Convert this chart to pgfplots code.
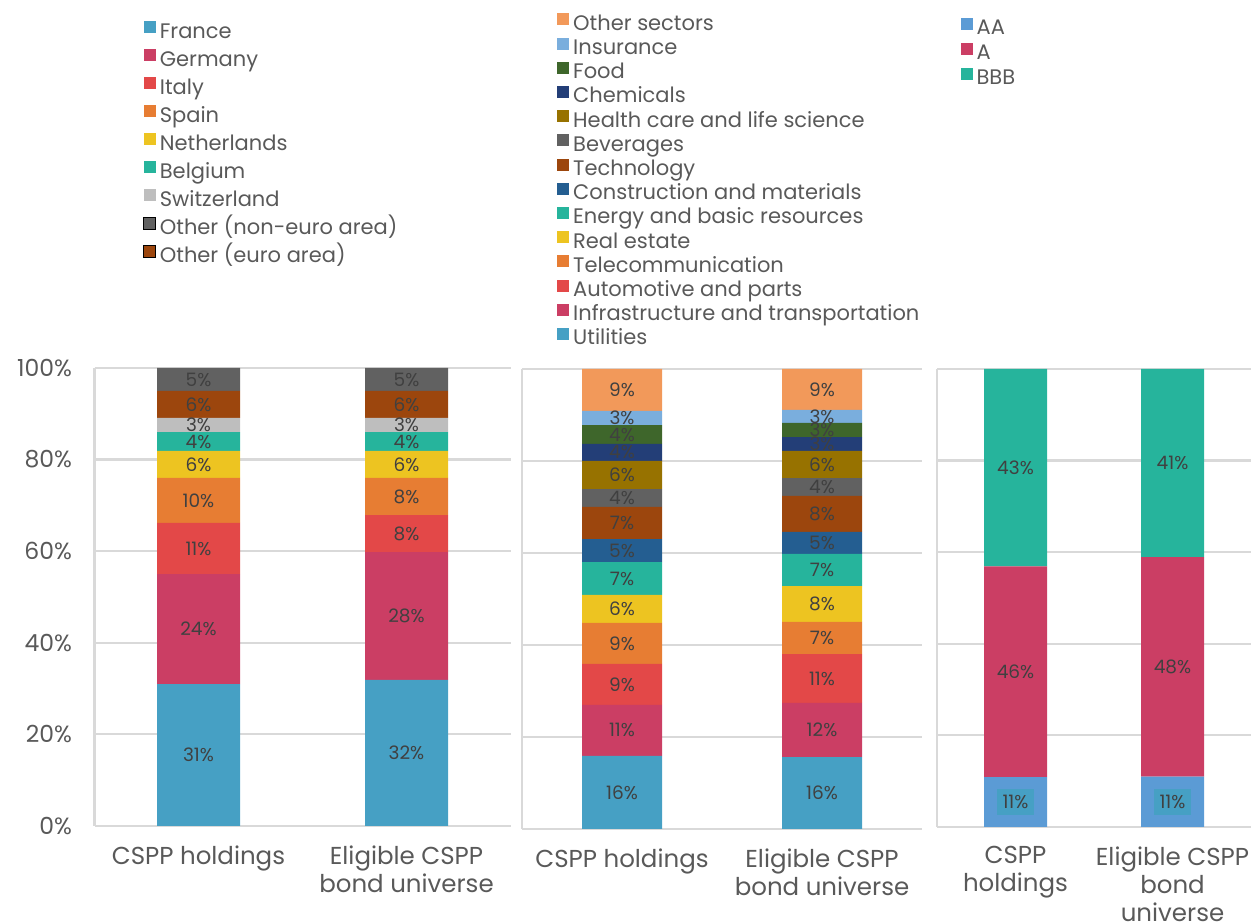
\documentclass[border=0pt]{standalone}
\usepackage{pgfplots}
\pgfplotsset{compat=1.18}
\usepackage{fontspec}
\setmainfont{Poppins}

\definecolor{cblue}{HTML}{46A0C4}
\definecolor{cmag}{HTML}{CB3E64}
\definecolor{cred}{HTML}{E34848}
\definecolor{corange}{HTML}{E77D33}
\definecolor{cyellow}{HTML}{EDC421}
\definecolor{cteal}{HTML}{26B49C}
\definecolor{clgray}{HTML}{BEBEBE}
\definecolor{cdgray}{HTML}{616161}
\definecolor{cbrown}{HTML}{9C460D}
\definecolor{cnavy}{HTML}{245E91}
\definecolor{cgold}{HTML}{977200}
\definecolor{cdnavy}{HTML}{233E77}
\definecolor{cgreen}{HTML}{3E662B}
\definecolor{clblue}{HTML}{7AAEDD}
\definecolor{cpeach}{HTML}{F2995A}
\definecolor{caa}{HTML}{5B9BD5}
\definecolor{cgrid}{HTML}{D9D9D9}
\definecolor{ctext}{HTML}{595959}
\definecolor{clabel}{HTML}{404040}

\pgfplotsset{
  panel/.style={
    scale only axis,
    ybar stacked,
    ymin=0, ymax=100,
    xmin=-0.5, xmax=1.5,
    ytick={0,20,40,60,80,100},
    xtick={0,1},
    major tick length=0pt,
    axis x line*=bottom, axis y line*=left,
    axis line style={cgrid, line width=2.2pt, -},
    ymajorgrids, grid style={cgrid, line width=2.2pt},
    /pgf/number format/assume math mode=true,
    xticklabel style={align=center, font=\fontsize{24.5}{28}\selectfont, text=ctext, yshift=-16pt},
    yticklabel style={font=\fontsize{23.5}{26}\selectfont, text=ctext, xshift=-19pt},
    nodes near coords={\pgfmathprintnumber[fixed,precision=0]{\pgfplotspointmeta}\%},
    nodes near coords align=center,
    every node near coord/.append style={
      anchor=center,
      font=\fontsize{18.5}{20}\selectfont, text=clabel, inner sep=1pt
    },
    legend style={draw=none, fill=none, anchor=north west,
      font=\fontsize{21}{22}\selectfont, text=ctext,
      nodes={inner sep=0pt, text height=15pt, text depth=5pt},
      /tikz/every odd column/.append style={column sep=4pt}},
    legend cell align=left,
    legend image code/.code={\fill[##1] (0pt,0pt) rectangle (12pt,12pt);},
  }
}

\begin{document}
\begin{tikzpicture}
\path[use as bounding box] (0,0) rectangle (1255pt,923pt);

% Panel 1: by country
\begin{axis}[panel,
  at={(94.5pt,97pt)}, anchor=south west,
  width=416pt, height=458pt, bar width=83pt,
  yticklabel={\pgfmathprintnumber{\tick}\%},
  xticklabels={CSPP holdings, {Eligible CSPP\\bond universe}},
  legend style={at={(0.11,1.762)}, row sep=6pt},
]
\addplot[fill=cblue, draw=none] coordinates {(0,31.0) (1,31.9)};
\addlegendentry{France}
\addplot[fill=cmag, draw=none] coordinates {(0,24.0) (1,27.9)};
\addlegendentry{Germany}
\addplot[fill=cred, draw=none] coordinates {(0,11.2) (1,8.1)};
\addlegendentry{Italy}
\addplot[fill=corange, draw=none] coordinates {(0,9.8) (1,8.1)};
\addlegendentry{Spain}
\addplot[fill=cyellow, draw=none] coordinates {(0,5.9) (1,5.9)};
\addlegendentry{Netherlands}
\addplot[fill=cteal, draw=none] coordinates {(0,4.1) (1,4.1)};
\addlegendentry{Belgium}
\addplot[fill=clgray, draw=none] coordinates {(0,3.1) (1,3.1)};
\addlegendentry{Switzerland}
\addplot[fill=cbrown, draw=none, forget plot] coordinates {(0,5.9) (1,5.9)};
\addplot[fill=cdgray, draw=none, forget plot] coordinates {(0,5.0) (1,5.0)};
\addlegendimage{fill=cdgray}
\addlegendentry{Other (non-euro area)}
\addlegendimage{fill=cbrown}
\addlegendentry{Other (euro area)}
\end{axis}

% Panel 2: by sector
\begin{axis}[panel,
  at={(522pt,94pt)}, anchor=south west,
  width=400pt, height=460pt, bar width=80pt,
  yticklabels={},
  xticklabels={CSPP holdings, {Eligible CSPP\\bond universe}},
  reverse legend,
  legend style={at={(0.08,1.778)}, row sep=2.2pt},
]
\addplot[fill=cblue, draw=none] coordinates {(0,15.9) (1,15.6)};
\addlegendentry{Utilities}
\addplot[fill=cmag, draw=none] coordinates {(0,11.1) (1,11.8)};
\addlegendentry{Infrastructure and transportation}
\addplot[fill=cred, draw=none] coordinates {(0,8.9) (1,10.6)};
\addlegendentry{Automotive and parts}
\addplot[fill=corange, draw=none] coordinates {(0,8.9) (1,7.0)};
\addlegendentry{Telecommunication}
\addplot[fill=cyellow, draw=none] coordinates {(0,6.1) (1,7.8)};
\addlegendentry{Real estate}
\addplot[fill=cteal, draw=none] coordinates {(0,7.1) (1,7.0)};
\addlegendentry{Energy and basic resources}
\addplot[fill=cnavy, draw=none] coordinates {(0,5.0) (1,4.8)};
\addlegendentry{Construction and materials}
\addplot[fill=cbrown, draw=none] coordinates {(0,7.0) (1,7.8)};
\addlegendentry{Technology}
\addplot[fill=cdgray, draw=none] coordinates {(0,3.9) (1,3.9)};
\addlegendentry{Beverages}
\addplot[fill=cgold, draw=none] coordinates {(0,6.1) (1,5.9)};
\addlegendentry{Health care and life science}
\addplot[fill=cdnavy, draw=none] coordinates {(0,3.7) (1,3.0)};
\addlegendentry{Chemicals}
\addplot[fill=cgreen, draw=none] coordinates {(0,4.1) (1,3.1)};
\addlegendentry{Food}
\addplot[fill=clblue, draw=none] coordinates {(0,3.1) (1,2.8)};
\addlegendentry{Insurance}
\addplot[fill=cpeach, draw=none] coordinates {(0,9.1) (1,8.9)};
\addlegendentry{Other sectors}
\end{axis}

% Panel 3: by rating
\begin{axis}[panel,
  at={(937pt,96pt)}, anchor=south west,
  width=314pt, height=458pt, bar width=63pt,
  yticklabels={},
  xticklabels={{CSPP\\holdings}, {Eligible CSPP\\bond\\universe}},
  legend style={at={(0.065,1.772)}, row sep=3pt},
]
\addplot[fill=caa, draw=none,
  every node near coord/.append style={fill=cblue, inner xsep=6pt, inner ysep=6pt}]
  coordinates {(0,10.9) (1,11.0)};
\addlegendentry{AA}
\addplot[fill=cmag, draw=none] coordinates {(0,46.0) (1,47.9)};
\addlegendentry{A}
\addplot[fill=cteal, draw=none] coordinates {(0,43.1) (1,41.1)};
\addlegendentry{BBB}
\end{axis}
\end{tikzpicture}
\end{document}
